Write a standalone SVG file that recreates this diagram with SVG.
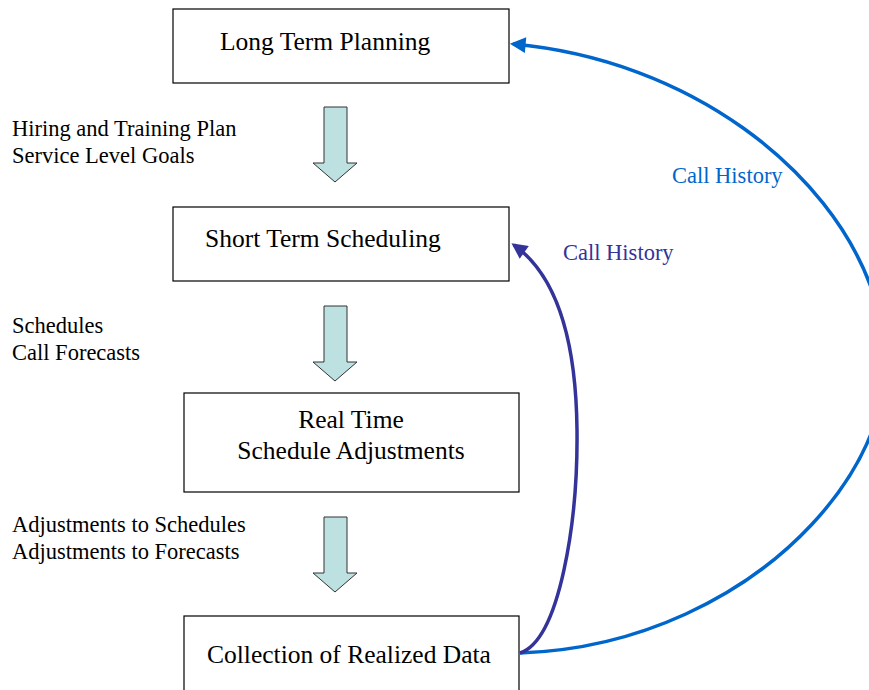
<svg xmlns="http://www.w3.org/2000/svg" width="869" height="690" viewBox="0 0 869 690">
  <style>
    .box { fill: #ffffff; stroke: #000000; stroke-width: 1.2; }
    .lbl { font-family: "Liberation Serif", "Times New Roman", serif; font-size: 25.5px; fill: #000000; }
    .side { font-family: "Liberation Serif", "Times New Roman", serif; font-size: 22.5px; fill: #000000; }
    .hist { font-family: "Liberation Serif", "Times New Roman", serif; font-size: 22.5px; }
    .flow { fill: #BDE0E0; stroke: #333333; stroke-width: 1; }
    .blue { fill: none; stroke: #0066CC; stroke-width: 3.5; }
    .purple { fill: none; stroke: #333399; stroke-width: 3.5; }
  </style>
  <defs>
    <marker id="headBlue" viewBox="0 0 10 10" refX="8" refY="5" markerWidth="5" markerHeight="4.5" orient="auto" markerUnits="strokeWidth">
      <path d="M0,0 L10,5 L0,10 Z" fill="#0066CC"/>
    </marker>
    <marker id="headPurple" viewBox="0 0 10 10" refX="8" refY="5" markerWidth="5" markerHeight="4.5" orient="auto" markerUnits="strokeWidth">
      <path d="M0,0 L10,5 L0,10 Z" fill="#333399"/>
    </marker>
    <path id="blockArrow" d="M-11,0 L12,0 L12,56 L22,56 L0,75 L-22,56 L-11,56 Z"/>
  </defs>

  <g id="node-long-term">
    <rect class="box" x="173" y="9" width="336" height="74"/>
    <text class="lbl" x="220" y="50">Long Term Planning</text>
  </g>
  <g id="node-short-term">
    <rect class="box" x="173" y="207" width="336" height="74"/>
    <text class="lbl" x="205" y="247">Short Term Scheduling</text>
  </g>
  <g id="node-real-time">
    <rect class="box" x="184" y="393" width="335" height="99"/>
    <text class="lbl" x="351" y="428" text-anchor="middle">Real Time</text>
    <text class="lbl" x="351" y="459" text-anchor="middle">Schedule Adjustments</text>
  </g>
  <g id="node-collection">
    <rect class="box" x="184" y="616" width="335" height="80"/>
    <text class="lbl" x="207" y="663">Collection of Realized Data</text>
  </g>

  <g id="flows">
    <use href="#blockArrow" class="flow" x="335" y="107"/>
    <use href="#blockArrow" class="flow" x="335" y="306"/>
    <use href="#blockArrow" class="flow" x="335" y="517"/>
    <text class="side" x="12" y="136">Hiring and Training Plan</text>
    <text class="side" x="12" y="163">Service Level Goals</text>
    <text class="side" x="12" y="333">Schedules</text>
    <text class="side" x="12" y="360">Call Forecasts</text>
    <text class="side" x="12" y="532">Adjustments to Schedules</text>
    <text class="side" x="12" y="559">Adjustments to Forecasts</text>
  </g>

  <g id="connectors">
    <path class="blue" d="M520,653 C760,645 940,440 872,290 C830,170 690,60 513,44" marker-end="url(#headBlue)"/>
    <path class="purple" d="M520,653 C560,640 578,520 577,430 C576,330 552,272 514,245" marker-end="url(#headPurple)"/>
    <text class="hist" x="672" y="183" fill="#0066CC">Call History</text>
    <text class="hist" x="563" y="260" fill="#333399">Call History</text>
  </g>
</svg>
